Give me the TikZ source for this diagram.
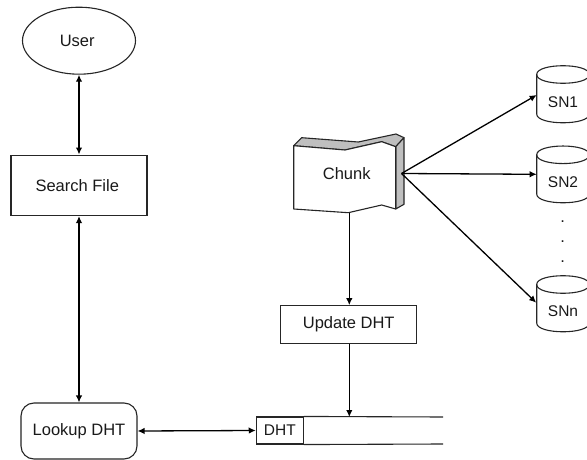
\documentclass[tikz,border=0pt]{standalone}
\usepackage{fontspec}
\setmainfont{Liberation Sans}
\usetikzlibrary{arrows.meta,shapes.geometric}
\tikzset{
  lbl/.style={font=\fontsize{16.5}{18}\selectfont,text=black!90,inner sep=0pt},
  smalllbl/.style={lbl,font=\fontsize{15.5}{18}\selectfont},
  ln/.style={line width=1.1pt,draw=black!85},
  boxnode/.style={lbl,ln,draw,rectangle,fill=white},
  conn/.style={line width=1.3pt,draw=black,-{Latex[length=7pt,width=6.5pt]}},
  both/.style={line width=1.3pt,draw=black,{Latex[length=7pt,width=6.5pt]}-{Latex[length=7pt,width=6.5pt]}},
  greyface/.style={ln,fill=black!25,line join=round},
  dotnode/.style={lbl}
}
\newcommand{\dbcyl}[5]{% name, top-ellipse centre y, bottom y, label y, label
  \draw[ln,fill=white] (536.7,#2) .. controls (536.7,#2-11.7) and (589.3,#2-11.7) .. (589.3,#2)
     -- (589.3,#3) .. controls (589.3,#3+11.7) and (536.7,#3+11.7) .. (536.7,#3) -- cycle;
  \draw[ln] (536.7,#2) .. controls (536.7,#2+11.7) and (589.3,#2+11.7) .. (589.3,#2);
  \node[smalllbl] (#1) at (563,#4) {#5};
}
\begin{document}
\begin{tikzpicture}[x=1pt,y=-1pt]
\useasboundingbox (0,0) rectangle (587,460);
\clip (0,0) rectangle (587,460);
\fill[white] (0,0) rectangle (587,460);

% left column
\node[lbl,ln,draw,ellipse,fill=white,minimum width=113pt,minimum height=67pt] (user) at (79,40.7) {User\kern3.5pt};
\node[boxnode,minimum width=136pt,minimum height=60.5pt] (search) at (79,185.3) {Search File\kern3.5pt};
\node[boxnode,rounded corners=13pt,minimum width=116pt,minimum height=56pt] (lookup) at (79,431) {Lookup DHT};

% chunk
\draw[greyface] (293.7,145.7) -- (301.7,137.7) -- (358.3,142) -- (396,134) -- (404,137.7) -- (395.7,146.7) -- (381.7,141.7) -- (345,150) -- cycle;
\draw[greyface] (395.7,146.7) -- (404,137.7) -- (404,204.3) -- (395.7,209) -- cycle;
\draw[ln,fill=white,line join=round] (293.7,145.7) -- (345,150) -- (381.7,141.7) -- (395.7,146.7) -- (395.7,209) -- (381.7,205) -- (348.3,212.7) -- (293.7,209) -- cycle;
\node[lbl] (chunk) at (346.7,173.3) {Chunk};
\coordinate (hub) at (401.5,173.5);
\coordinate (chunkbottom) at (349.3,212.7);

% update and table
\node[boxnode,minimum width=136pt,minimum height=38pt] (update) at (348.7,324.7) {Update DHT};
\node[boxnode,smalllbl,minimum width=47pt,minimum height=27pt] (dht) at (279.8,430.5) {DHT};
\draw[ln] (dht.north east) -- (443,417) coordinate (tableend);
\draw[ln] (dht.south east) -- (443,444);
\coordinate (tabletop) at (349.3,417);

% storage nodes
\dbcyl{sn1}{74.5}{114}{101.7}{SN1}
\dbcyl{sn2}{154.8}{194}{182}{SN2}
\dbcyl{snn}{284.5}{323}{311}{SNn}
\coordinate (tip1) at (536.7,95);
\coordinate (tip2) at (536.7,174.3);
\coordinate (tipn) at (536.2,302.7);
\node[dotnode] (d1) at (562.7,221.7) {.};
\node[dotnode] (d2) at (562.7,242) {.};
\node[dotnode] (d3) at (562.7,262) {.};

% connectors
\draw[both] (user.south) -- (search.north);
\draw[both] (lookup.north) -- (search.south);
\draw[both] (lookup.east) -- (dht.west);
\draw[conn] (chunkbottom) -- (chunkbottom |- update.north);
\draw[conn] (update.south -| tabletop) -- (tabletop);
\draw[conn] (hub) -- (tip1);
\draw[conn] (hub) -- (tip2);
\draw[conn] (hub) -- (tipn);
\end{tikzpicture}
\end{document}
